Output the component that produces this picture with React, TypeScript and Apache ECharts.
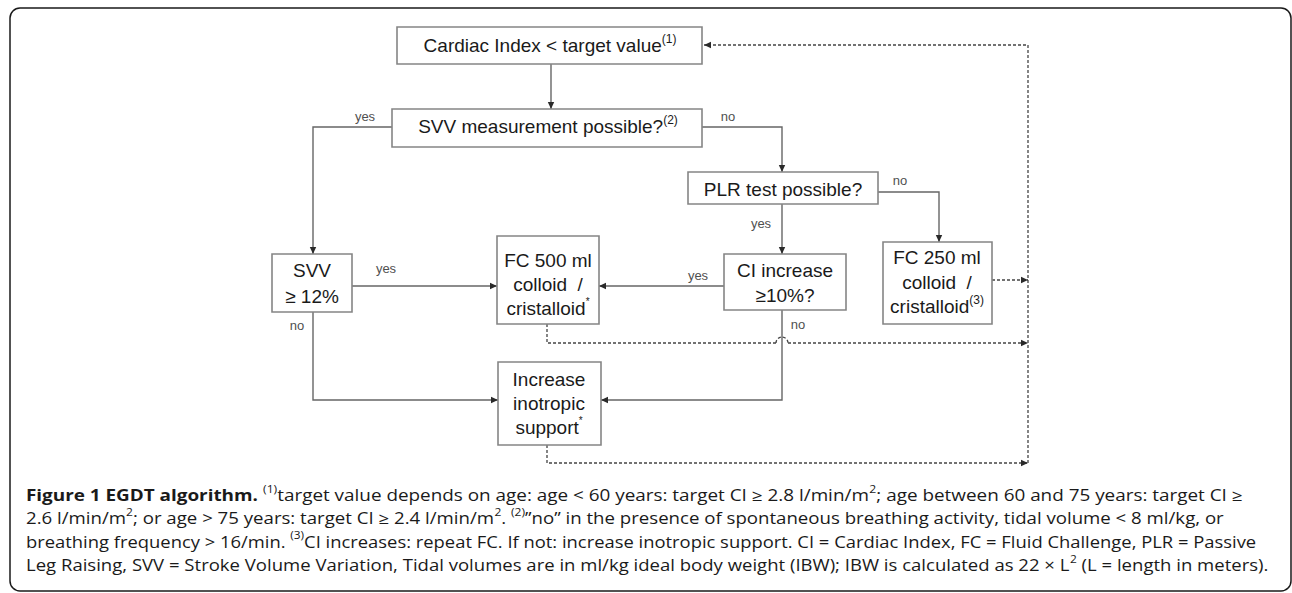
import React, { useEffect, useRef } from "react";
import * as echarts from "echarts";

// ---- content ----
const BOX_TEXTS = [
  "Cardiac Index < target value{s|(1)}",
  "SVV measurement possible?{s|(2)}",
  "PLR test possible?",
  "SVV\n≥ 12%",
  "FC 500 ml\ncolloid  /\ncristalloid{a|*}",
  "CI increase\n≥10%?",
  "FC 250 ml\ncolloid  /\ncristalloid{s|(3)}",
  "Increase\ninotropic\nsupport{a|*}",
];

const EDGE_LABELS = ["yes", "no", "no", "yes", "yes", "yes", "no", "no"];

const CAPTION_LINES = [
  "{b|Figure 1 EGDT algorithm.} {s|(1)}target value depends on age: age < 60 years: target CI ≥ 2.8 l/min/m{s|2}; age between 60 and 75 years: target CI ≥",
  "2.6 l/min/m{s|2}; or age > 75 years: target CI ≥ 2.4 l/min/m{s|2}. {s|(2)}”no” in the presence of spontaneous breathing activity, tidal volume < 8 ml/kg, or",
  "breathing frequency > 16/min. {s|(3)}CI increases: repeat FC. If not: increase inotropic support. CI = Cardiac Index, FC = Fluid Challenge, PLR = Passive",
  "Leg Raising, SVV = Stroke Volume Variation, Tidal volumes are in ml/kg ideal body weight (IBW); IBW is calculated as 22 × L{s|2} (L = length in meters).",
];

// ---- layout (positions / sizes) ----
const BOX_LAYOUT = [
  { r: [397, 27, 305, 37], c: [550, 45], lh: 24 },
  { r: [392, 109, 310, 38], c: [548, 126], lh: 24 },
  { r: [688, 172, 190, 32], c: [783, 189], lh: 24 },
  { r: [272, 254, 80, 58], c: [312, 283.5], lh: 25.5 },
  { r: [497, 236, 102, 88], c: [548, 284], lh: 24 },
  { r: [724, 254, 122, 56], c: [785, 283], lh: 25.5 },
  { r: [883, 242, 109, 82], c: [937, 282], lh: 24.3 },
  { r: [498, 362, 103, 83], c: [549, 403.3], lh: 24.3 },
];

const LABEL_POS = [
  [365, 116], [728, 116], [900, 180], [761, 223],
  [698, 275], [386, 268], [297, 325], [798, 324],
];

type Dir = "up" | "down" | "left" | "right";
const SOLID_EDGES: { pts: number[][]; dir: Dir }[] = [
  { pts: [[551, 64], [551, 109]], dir: "down" },
  { pts: [[392, 127], [313, 127], [313, 254]], dir: "down" },
  { pts: [[702, 127], [782, 127], [782, 172]], dir: "down" },
  { pts: [[878, 192], [939, 192], [939, 242]], dir: "down" },
  { pts: [[782, 204], [782, 254]], dir: "down" },
  { pts: [[724, 286], [599, 286]], dir: "left" },
  { pts: [[352, 286], [497, 286]], dir: "right" },
  { pts: [[313, 312], [313, 400], [498, 400]], dir: "right" },
  { pts: [[782, 310], [782, 400], [601, 400]], dir: "left" },
];

const DASHED_EDGES: { pts: number[][]; dir: Dir | null }[] = [
  { pts: [[547, 324], [547, 343], [776, 343]], dir: null },
  { pts: [[788, 343], [1028, 343]], dir: "right" },
  { pts: [[547, 445], [547, 463], [1028, 463]], dir: "right" },
  { pts: [[992, 280], [1028, 280]], dir: "right" },
  { pts: [[1028, 463], [1028, 45], [704, 45]], dir: "left" },
];

const HOP = { cx: 782, cy: 343, r: 6 };

const CAPTION_X = 26;
const CAPTION_Y = [495, 518.3, 541.6, 565];
const CAPTION_W = [1217, 1199, 1230, 1242];

const CAP_FONT = '"Open Sans"';
const CAP_SIZE = 15.5;
const CAP_SUP = 10;

function measureRich(line: string) {
  const ctx = document.createElement("canvas").getContext("2d")!;
  const fonts: Record<string, string> = {
    n: `${CAP_SIZE}px ${CAP_FONT}`,
    b: `bold ${CAP_SIZE}px ${CAP_FONT}`,
    s: `${CAP_SUP}px ${CAP_FONT}`,
  };
  let w = 0;
  const meas = (t: string, k: string) => {
    ctx.font = fonts[k];
    w += ctx.measureText(t).width;
  };
  const re = /\{(\w+)\|([^}]*)\}/g;
  let last = 0;
  let m: RegExpExecArray | null;
  while ((m = re.exec(line))) {
    if (m.index > last) meas(line.slice(last, m.index), "n");
    meas(m[2], m[1]);
    last = re.lastIndex;
  }
  if (last < line.length) meas(line.slice(last), "n");
  return w;
}

function arrowHead(x: number, y: number, dir: Dir, color: string) {
  const L = 7, H = 3.2;
  let pts: number[][];
  if (dir === "down") pts = [[x, y], [x - H, y - L], [x + H, y - L]];
  else if (dir === "up") pts = [[x, y], [x - H, y + L], [x + H, y + L]];
  else if (dir === "right") pts = [[x, y], [x - L, y - H], [x - L, y + H]];
  else pts = [[x, y], [x + L, y - H], [x + L, y + H]];
  return { type: "polygon", shape: { points: pts }, style: { fill: color, stroke: "none" }, silent: true };
}

function buildOption() {
  const g: any[] = [];
  const lineCol = "#666";
  const dashCol = "#444";
  g.push({
    type: "rect",
    shape: { x: 10, y: 8, width: 1281, height: 583, r: 10 },
    style: { fill: "none", stroke: "#1a1a1a", lineWidth: 1.5 },
    silent: true,
  });
  SOLID_EDGES.forEach((e) => {
    g.push({ type: "polyline", shape: { points: e.pts }, style: { stroke: lineCol, lineWidth: 1.4, fill: "none" }, silent: true });
    const t = e.pts[e.pts.length - 1];
    g.push(arrowHead(t[0], t[1], e.dir, "#2a2a2a"));
  });
  DASHED_EDGES.forEach((e) => {
    g.push({ type: "polyline", shape: { points: e.pts }, style: { stroke: dashCol, lineWidth: 1.3, fill: "none", lineDash: [3, 2] }, silent: true });
    if (e.dir) {
      const t = e.pts[e.pts.length - 1];
      g.push(arrowHead(t[0], t[1], e.dir, "#2a2a2a"));
    }
  });
  g.push({
    type: "arc",
    shape: { cx: HOP.cx, cy: HOP.cy, r: HOP.r, startAngle: Math.PI, endAngle: Math.PI * 2, clockwise: true },
    style: { stroke: dashCol, lineWidth: 1.3, fill: "none", lineDash: [3, 2] },
    silent: true,
  });
  BOX_TEXTS.forEach((txt, i) => {
    const L = BOX_LAYOUT[i];
    g.push({
      type: "rect",
      shape: { x: L.r[0], y: L.r[1], width: L.r[2], height: L.r[3] },
      style: { fill: "#fff", stroke: "#858585", lineWidth: 1.6 },
      silent: true,
    });
    g.push({
      type: "text",
      x: L.c[0],
      y: L.c[1],
      silent: true,
      style: {
        text: txt,
        fontFamily: '"Liberation Sans", Arial, sans-serif',
        fontSize: 19,
        fill: "#1a1a1a",
        align: "center",
        verticalAlign: "middle",
        lineHeight: L.lh,
        rich: {
          s: { fontSize: 12, lineHeight: 17, verticalAlign: "top", fontFamily: '"Liberation Sans", Arial, sans-serif', fill: "#1a1a1a" },
          a: { fontSize: 10, lineHeight: 14, verticalAlign: "top", fontFamily: '"Liberation Sans", Arial, sans-serif', fill: "#1a1a1a" },
        },
      },
    });
  });
  EDGE_LABELS.forEach((t, i) => {
    g.push({
      type: "text",
      x: LABEL_POS[i][0],
      y: LABEL_POS[i][1],
      silent: true,
      style: {
        text: t,
        fontFamily: '"Liberation Sans", Arial, sans-serif',
        fontSize: 13,
        fill: "#505050",
        align: "center",
        verticalAlign: "middle",
      },
    });
  });
  CAPTION_LINES.forEach((line, i) => {
    const w = measureRich(line);
    const sx = w > 0 ? CAPTION_W[i] / w : 1;
    g.push({
      type: "text",
      x: CAPTION_X,
      y: CAPTION_Y[i],
      scaleX: sx,
      silent: true,
      style: {
        text: line,
        x: 0,
        y: 0,
        fontFamily: CAP_FONT,
        fontSize: CAP_SIZE,
        fill: "#1a1a1a",
        align: "left",
        verticalAlign: "middle",
        lineHeight: 23,
        rich: {
          b: { fontFamily: CAP_FONT, fontSize: CAP_SIZE, fontWeight: "bold", fill: "#1a1a1a", lineHeight: 23 },
          s: { fontFamily: CAP_FONT, fontSize: CAP_SUP, fill: "#1a1a1a", lineHeight: 15, verticalAlign: "top" },
        },
      },
    });
  });
  return { animation: false, graphic: { elements: g } };
}

export default function App() {
  const ref = useRef<HTMLDivElement>(null);
  useEffect(() => {
    const chart = echarts.init(ref.current!, null, { renderer: "svg" });
    chart.setOption(buildOption() as any);
    return () => chart.dispose();
  }, []);
  return (
    <div
      ref={ref}
      style={{ position: "fixed", left: 0, top: 0, width: 1292, height: 593, background: "#fff" }}
    />
  );
}
